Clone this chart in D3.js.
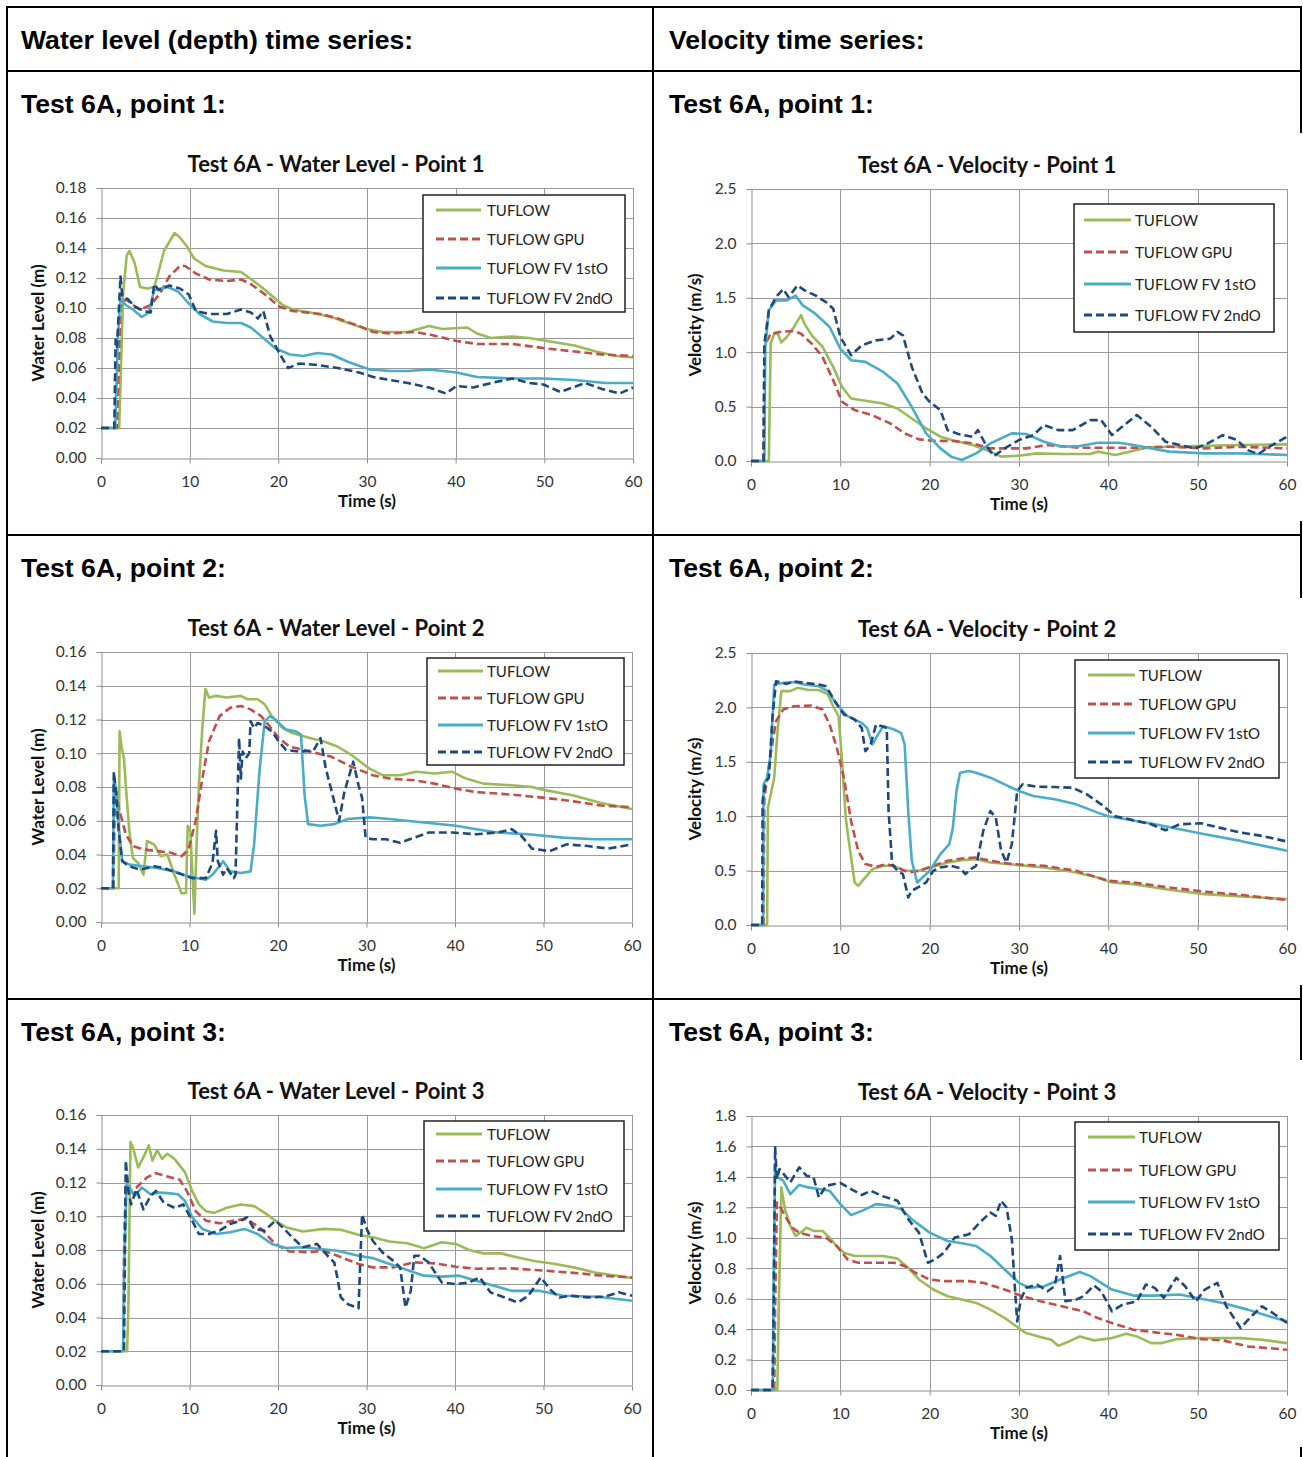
<!DOCTYPE html>
<html><head><meta charset="utf-8">
<script src="https://cdn.jsdelivr.net/npm/d3@7"></script>
<style>body{margin:0;background:#fff}svg{display:block}</style>
</head><body><svg id="c" width="1303" height="1457"></svg>
<script>
// ---------------- DATA ----------------
const seriesNames = ["TUFLOW", "TUFLOW GPU", "TUFLOW FV 1stO", "TUFLOW FV 2ndO"];
const xTicks = [0, 10, 20, 30, 40, 50, 60];
const wlTicks18 = [0, 0.02, 0.04, 0.06, 0.08, 0.10, 0.12, 0.14, 0.16, 0.18];
const wlTicks16 = [0, 0.02, 0.04, 0.06, 0.08, 0.10, 0.12, 0.14, 0.16];
const velTicks25 = [0, 0.5, 1.0, 1.5, 2.0, 2.5];
const velTicks18 = [0, 0.2, 0.4, 0.6, 0.8, 1.0, 1.2, 1.4, 1.6, 1.8];
const columnHeaders = ["Water level (depth) time series:", "Velocity time series:"];
const rowHeaders = ["Test 6A, point 1:", "Test 6A, point 2:", "Test 6A, point 3:"];
const chartTitles = ["Test 6A - Water Level - Point 1", "Test 6A - Velocity - Point 1",
  "Test 6A - Water Level - Point 2", "Test 6A - Velocity - Point 2",
  "Test 6A - Water Level - Point 3", "Test 6A - Velocity - Point 3"];

// Water level point 1
const wl1Tuflow = [[0,0.02],[2.05,0.02],[2.5,0.11],[2.9,0.135],[3.2,0.138],[3.8,0.130],[4.4,0.114],[5.2,0.113],[6.0,0.114],[6.35,0.121],[7.1,0.138],[8.3,0.150],[8.9,0.147],[9.7,0.141],[10.5,0.133],[11.8,0.128],[13.8,0.125],[15.8,0.124],[16.5,0.121],[18.1,0.114],[19.3,0.108],[20.5,0.102],[21.6,0.099],[23.6,0.097],[26,0.094],[27.9,0.090],[29.9,0.086],[31.8,0.084],[34.6,0.084],[37,0.088],[38.5,0.086],[41.3,0.087],[42.4,0.083],[44,0.080],[46.4,0.081],[48.3,0.080],[50.3,0.078],[53.4,0.075],[55.8,0.071],[58.1,0.068],[60,0.067]];
const wl1Gpu = [[0,0.02],[1.8,0.02],[2.2,0.101],[2.8,0.106],[3.6,0.102],[4.4,0.099],[5.6,0.102],[6.7,0.110],[7.7,0.121],[8.9,0.128],[9.5,0.128],[10.7,0.123],[12.2,0.119],[14.2,0.118],[15.8,0.119],[16.9,0.116],[18.5,0.109],[20.1,0.101],[21.6,0.098],[24.8,0.096],[26.7,0.093],[29.1,0.088],[30.7,0.084],[32.6,0.083],[35.4,0.084],[37.3,0.082],[40.1,0.078],[42.4,0.076],[46.4,0.076],[50.3,0.073],[53.4,0.071],[56.5,0.069],[60,0.068]];
const wl1Fv1 = [[0,0.02],[1.6,0.02],[1.9,0.08],[2.2,0.106],[2.8,0.102],[3.6,0.099],[4.6,0.094],[5.4,0.097],[6.0,0.112],[7.5,0.114],[8.7,0.111],[9.9,0.103],[11.1,0.096],[12.6,0.091],[14.2,0.090],[15.8,0.090],[16.9,0.087],[18.5,0.079],[19.7,0.073],[21.3,0.069],[22.8,0.068],[24.4,0.070],[26,0.069],[27.9,0.064],[30.3,0.059],[32.6,0.058],[34.6,0.058],[37,0.059],[40.1,0.057],[42.4,0.054],[46.4,0.053],[49.9,0.053],[53.4,0.052],[56.9,0.050],[60,0.050]];
const wl1Fv2 = [[0,0.02],[1.5,0.02],[1.65,0.079],[1.8,0.074],[2.2,0.121],[2.4,0.108],[3.0,0.106],[3.8,0.101],[4.8,0.098],[5.6,0.097],[6.0,0.116],[6.5,0.112],[7.7,0.115],[8.9,0.113],[9.9,0.109],[10.7,0.098],[12.2,0.096],[14.2,0.096],[15.8,0.099],[16.9,0.097],[17.7,0.093],[18.3,0.098],[19.1,0.081],[20.1,0.070],[21.1,0.060],[22.4,0.063],[24.4,0.062],[26.7,0.060],[29.1,0.057],[30.7,0.054],[32.6,0.052],[34.6,0.050],[37,0.047],[38.9,0.043],[40.1,0.048],[42,0.047],[44,0.050],[46.4,0.053],[48.3,0.050],[49.9,0.049],[51.8,0.044],[54.6,0.050],[56.5,0.046],[58.5,0.043],[60,0.047]];

// Velocity point 1
const v1Tuflow = [[0,0],[2.0,0],[2.2,1.08],[2.6,1.17],[3.0,1.17],[3.4,1.09],[4.0,1.14],[4.8,1.23],[5.6,1.34],[6.0,1.26],[6.8,1.155],[8.0,1.05],[9.2,0.865],[10.2,0.68],[11.2,0.575],[12.8,0.553],[14.8,0.529],[16.4,0.483],[18,0.391],[19.6,0.30],[21.2,0.223],[22.8,0.186],[24.8,0.147],[26.8,0.086],[28,0.04],[30,0.049],[32,0.07],[34.8,0.064],[38,0.064],[38.8,0.086],[40.8,0.055],[42.8,0.095],[44.4,0.125],[46.8,0.131],[50.8,0.14],[54.8,0.147],[60,0.153]];
const v1Gpu = [[0,0],[1.4,0],[1.5,1.05],[2.2,1.17],[3.2,1.186],[4.8,1.195],[5.6,1.17],[6.8,1.079],[8.0,0.957],[9.2,0.743],[10.2,0.544],[11.6,0.468],[13.6,0.42],[15.6,0.345],[17.2,0.254],[18.8,0.199],[20.4,0.186],[22.8,0.183],[24.8,0.162],[26.8,0.116],[30.8,0.116],[33.2,0.147],[36.8,0.122],[42.8,0.122],[46.8,0.131],[50.8,0.116],[54.8,0.131],[60,0.116]];
const v1Fv1 = [[0,0],[1.5,0],[1.6,1.05],[2.0,1.385],[2.8,1.476],[4.0,1.476],[5.0,1.52],[5.8,1.43],[7.2,1.354],[8.8,1.232],[10,1.033],[11.2,0.926],[12.8,0.911],[14.8,0.819],[16.4,0.712],[18,0.498],[19.6,0.254],[21.2,0.116],[22.4,0.04],[23.6,0.009],[25.2,0.07],[26.8,0.162],[29.2,0.254],[30.8,0.248],[32.8,0.177],[34.8,0.131],[36.8,0.137],[38.8,0.168],[41.2,0.168],[42.8,0.147],[44.8,0.116],[46.8,0.086],[50.8,0.07],[54.8,0.07],[60,0.055]];
const v1Fv2 = [[0,0],[1.4,0],[1.5,1.08],[2.0,1.385],[2.8,1.507],[3.6,1.58],[4.2,1.507],[5.2,1.614],[6.0,1.568],[7.2,1.522],[8.4,1.46],[9.2,1.40],[10,1.14],[11.2,0.972],[12.4,1.064],[14,1.109],[15.6,1.125],[16.4,1.186],[17,1.155],[18,0.865],[19.2,0.62],[20,0.544],[21.2,0.468],[22,0.284],[23.2,0.248],[24.8,0.223],[25.4,0.284],[26.4,0.131],[27.2,0.046],[28.4,0.116],[30,0.193],[31.6,0.238],[32.8,0.33],[34.4,0.284],[36,0.284],[38,0.376],[39.2,0.376],[40.4,0.238],[42,0.345],[43.2,0.422],[44.8,0.315],[46.4,0.177],[48,0.147],[49.6,0.116],[50.8,0.147],[52.8,0.238],[54.4,0.193],[55.6,0.10],[56.8,0.064],[58,0.131],[60,0.223]];

// Water level point 2
const wl2Tuflow = [[0,0.02],[2.0,0.02],[2.1,0.113],[2.35,0.103],[2.6,0.097],[2.8,0.081],[3.2,0.054],[3.6,0.038],[4.2,0.035],[4.8,0.028],[5.2,0.048],[6.0,0.046],[6.75,0.039],[7.5,0.040],[8.3,0.028],[9.1,0.017],[9.6,0.017],[9.8,0.057],[10.1,0.054],[10.35,0.026],[10.55,0.005],[10.8,0.046],[11.06,0.081],[11.45,0.115],[11.8,0.138],[12.2,0.133],[13,0.134],[14.2,0.133],[15.8,0.134],[16.55,0.132],[17.7,0.132],[18.5,0.129],[19.3,0.122],[20.5,0.115],[21.6,0.112],[23.6,0.109],[25.2,0.107],[26.7,0.104],[28.3,0.099],[30.3,0.091],[31.8,0.087],[33.8,0.087],[35.6,0.089],[37.7,0.088],[39.7,0.089],[41.25,0.085],[43.2,0.082],[46.4,0.081],[48.7,0.080],[50.3,0.078],[53.4,0.075],[56.5,0.0705],[60,0.067]];
const wl2Gpu = [[0,0.02],[1.4,0.02],[1.6,0.081],[2.0,0.068],[2.8,0.052],[3.6,0.045],[4.8,0.043],[6.35,0.042],[7.9,0.041],[9.1,0.039],[9.9,0.043],[10.7,0.060],[11.45,0.085],[12.2,0.107],[13.4,0.122],[14.6,0.127],[15.8,0.128],[16.9,0.126],[18.1,0.122],[18.9,0.117],[20.1,0.109],[21.3,0.104],[23.6,0.101],[26,0.098],[28.3,0.092],[30.7,0.087],[32.6,0.085],[35.4,0.084],[37.7,0.082],[40.1,0.079],[42.4,0.077],[46.4,0.0755],[50.3,0.0735],[53.4,0.0715],[56.5,0.069],[60,0.068]];
const wl2Fv1 = [[0,0.02],[1.35,0.02],[1.45,0.085],[1.7,0.079],[2.0,0.056],[2.4,0.036],[3.2,0.034],[4.8,0.033],[6.35,0.032],[8.3,0.030],[9.9,0.027],[11.85,0.025],[12.6,0.028],[13.8,0.036],[14.6,0.030],[15.8,0.029],[16.9,0.030],[17.3,0.046],[17.9,0.089],[18.5,0.119],[19.1,0.122],[19.7,0.120],[20.9,0.114],[22,0.113],[22.6,0.111],[23,0.0755],[23.4,0.058],[24.8,0.057],[26.35,0.058],[27.9,0.061],[30.3,0.062],[32.6,0.061],[36.5,0.059],[40.1,0.057],[42.4,0.055],[44.8,0.053],[48.3,0.052],[52.2,0.050],[55.8,0.049],[60,0.049]];
const wl2Fv2 = [[0,0.02],[1.35,0.02],[1.45,0.089],[1.7,0.077],[2.0,0.054],[2.4,0.036],[3.2,0.033],[4.4,0.031],[6.0,0.033],[7.1,0.032],[8.7,0.029],[10.3,0.026],[11.85,0.026],[12.6,0.035],[13,0.054],[13.2,0.036],[13.8,0.028],[14.2,0.032],[15,0.026],[15.2,0.028],[15.6,0.109],[15.8,0.085],[16,0.101],[16.35,0.097],[16.75,0.100],[16.9,0.119],[17.3,0.115],[17.7,0.118],[18.5,0.116],[19.3,0.113],[20.1,0.107],[20.9,0.102],[22.4,0.101],[24,0.1015],[24.8,0.109],[25.4,0.091],[26.35,0.0715],[26.9,0.060],[27.5,0.077],[28.5,0.095],[29.1,0.081],[29.5,0.0735],[29.9,0.050],[30.7,0.049],[32.2,0.049],[33.8,0.047],[35.4,0.050],[37,0.053],[39.7,0.053],[42.4,0.052],[44.8,0.053],[46.4,0.055],[47.5,0.051],[48.7,0.0435],[50.7,0.042],[52.6,0.046],[55,0.045],[57.3,0.0435],[60,0.046]];

// Velocity point 2
const v2Tuflow = [[0,0],[1.8,0],[1.9,1.08],[2.6,1.354],[3.0,1.81],[3.4,2.15],[4.4,2.15],[5.2,2.18],[6.4,2.16],[7.6,2.16],[8.6,2.12],[9.2,2.01],[9.8,1.92],[10.2,1.507],[10.6,0.987],[11,0.743],[11.6,0.391],[12,0.36],[12.6,0.42],[13.6,0.513],[14.8,0.544],[16,0.544],[17.2,0.498],[18.8,0.498],[20.4,0.535],[22,0.575],[23.6,0.596],[25.2,0.605],[26.8,0.575],[30,0.55],[32.8,0.529],[36,0.489],[38.8,0.437],[40.4,0.391],[42.8,0.376],[46.8,0.324],[50.8,0.284],[54.8,0.263],[60,0.238]];
const v2Gpu = [[0,0],[1.4,0],[1.5,1.17],[2.2,1.568],[2.8,1.873],[3.6,1.98],[4.8,2.01],[6.8,2.017],[8,1.98],[8.8,1.843],[9.6,1.63],[10.4,1.354],[11.2,0.957],[12,0.68],[12.8,0.56],[14,0.535],[15.2,0.56],[16.4,0.529],[17.6,0.483],[18.8,0.498],[20.4,0.544],[22,0.59],[23.6,0.611],[25.2,0.62],[26.8,0.59],[29.2,0.56],[32.8,0.544],[36.4,0.498],[40,0.406],[42.8,0.391],[46.8,0.345],[50.8,0.306],[54.8,0.278],[60,0.229]];
const v2Fv1 = [[0,0],[1.35,0],[1.4,1.29],[1.8,1.354],[2.2,1.568],[2.6,2.21],[3.6,2.225],[4.8,2.234],[6,2.21],[7.6,2.194],[8.6,2.15],[9.6,2.026],[10.8,1.92],[12.4,1.858],[13,1.81],[13.6,1.66],[14.2,1.75],[14.8,1.828],[16,1.797],[16.8,1.766],[17.2,1.66],[17.6,1.048],[18,0.59],[18.6,0.391],[19.2,0.437],[20,0.498],[21.2,0.651],[22.2,0.743],[22.6,0.895],[23,1.232],[23.4,1.40],[24.4,1.415],[25.2,1.40],[26.8,1.354],[28.8,1.277],[30,1.232],[31.6,1.186],[34,1.155],[36.4,1.109],[38.8,1.033],[40,1.0],[42,0.972],[44.8,0.932],[48,0.88],[50.8,0.834],[54.8,0.773],[60,0.682]];
const v2Fv2 = [[0,0],[1.25,0],[1.3,1.14],[1.6,1.308],[2.0,1.354],[2.4,1.904],[2.8,2.24],[4.0,2.216],[4.8,2.24],[6,2.225],[7.6,2.21],[8.4,2.194],[9.4,2.057],[10.4,1.935],[11.6,1.889],[12.4,1.81],[12.8,1.598],[13.4,1.66],[14,1.843],[14.6,1.828],[15.2,1.81],[15.4,1.048],[15.8,0.56],[16.4,0.498],[17,0.468],[17.6,0.254],[18,0.315],[18.8,0.351],[19.6,0.391],[20.4,0.498],[21.2,0.529],[22.4,0.544],[23.4,0.523],[24,0.468],[24.6,0.513],[25.2,0.544],[26,0.865],[26.8,1.048],[27.4,0.987],[28,0.682],[28.6,0.575],[29.2,0.743],[29.8,1.232],[30.4,1.293],[32,1.271],[34,1.268],[36,1.262],[37.6,1.20],[39.2,1.109],[40.8,1.0],[42.8,0.963],[44.8,0.926],[46.4,0.871],[48,0.926],[50.4,0.935],[52.4,0.895],[54.8,0.85],[57.2,0.819],[60,0.767]];

// Water level point 3
const wl3Tuflow = [[0,0.02],[2.95,0.02],[3.1,0.048],[3.33,0.144],[3.6,0.141],[4.2,0.129],[4.8,0.135],[5.4,0.142],[5.8,0.133],[6.35,0.139],[6.9,0.134],[7.5,0.137],[8.3,0.134],[8.9,0.130],[9.5,0.126],[10.3,0.115],[11.06,0.107],[11.85,0.103],[12.8,0.102],[14.2,0.105],[15.8,0.107],[17.3,0.106],[18.5,0.102],[19.7,0.0974],[20.9,0.0935],[22.8,0.091],[25.2,0.0925],[27.1,0.092],[29.1,0.089],[30.7,0.0875],[32.6,0.085],[34.6,0.084],[36.5,0.081],[38.5,0.0846],[40.1,0.0836],[41.6,0.080],[43.2,0.078],[45.2,0.078],[47.1,0.0756],[49.1,0.0733],[51,0.072],[53.4,0.0697],[55.8,0.0667],[58.1,0.0648],[60,0.0634]];
const wl3Gpu = [[0,0.02],[2.5,0.02],[2.6,0.078],[2.8,0.119],[3.2,0.115],[4.0,0.117],[5.2,0.123],[6.2,0.1255],[7.5,0.1236],[8.9,0.1216],[9.7,0.115],[10.7,0.103],[11.85,0.0974],[13.4,0.0958],[15,0.0974],[16.5,0.0984],[18.1,0.0925],[19.7,0.0836],[21.25,0.0792],[23.6,0.0786],[25.2,0.0796],[26.7,0.0766],[29.1,0.0717],[30.7,0.0697],[33,0.0697],[35.4,0.0727],[37.7,0.0721],[40.1,0.0701],[42.4,0.0689],[46.4,0.0691],[50.3,0.0677],[54.2,0.0661],[56.9,0.0646],[60,0.0638]];
const wl3Fv1 = [[0,0.02],[2.5,0.02],[2.6,0.068],[2.9,0.119],[3.2,0.117],[3.8,0.112],[4.6,0.117],[5.6,0.113],[6.5,0.114],[7.5,0.1137],[8.7,0.113],[9.5,0.109],[10.3,0.0994],[11.45,0.0925],[13,0.0895],[14.6,0.0905],[16.2,0.0925],[17.7,0.0895],[19.3,0.0836],[20.9,0.0812],[22.8,0.0816],[24.8,0.0806],[26.7,0.0796],[29.1,0.0766],[30.7,0.0752],[32.6,0.0717],[34.6,0.0681],[36.5,0.0648],[38.5,0.0642],[40.5,0.0648],[42.4,0.0618],[44.4,0.0588],[46.4,0.0558],[49.5,0.0558],[52.2,0.0529],[56.2,0.0523],[60,0.0499]];
const wl3Fv2 = [[0,0.02],[2.6,0.02],[2.8,0.133],[3.1,0.115],[3.4,0.107],[4,0.116],[4.8,0.104],[5.6,0.112],[6.2,0.115],[7.1,0.108],[8.3,0.105],[9.3,0.107],[10.3,0.0974],[11.06,0.0895],[12.2,0.0895],[13.4,0.0915],[14.6,0.0954],[15.8,0.0974],[16.5,0.0994],[17.3,0.0925],[18.5,0.0915],[19.7,0.0974],[20.7,0.0925],[21.6,0.0875],[22.8,0.0816],[24.4,0.0836],[25.6,0.0766],[26.35,0.0727],[26.7,0.0638],[27.1,0.0519],[27.9,0.0479],[29.1,0.0455],[29.5,0.101],[30.1,0.0915],[30.7,0.0855],[31.8,0.0786],[33,0.0737],[33.8,0.0697],[34.4,0.0459],[35,0.0558],[35.4,0.0766],[36,0.0766],[37,0.0727],[38.5,0.0608],[40.1,0.0598],[41.6,0.0608],[42.8,0.0638],[44,0.0549],[45.6,0.0519],[47.1,0.0489],[48.3,0.0529],[49.7,0.0638],[50.7,0.0568],[51.8,0.0519],[53,0.0529],[55,0.0519],[56.9,0.0523],[58.5,0.0549],[60,0.0529]];

// Velocity point 3
const v3Tuflow = [[0,0],[2.95,0],[3.1,0.528],[3.4,1.331],[3.8,1.188],[4.4,1.078],[5,1.012],[5.8,1.045],[6.2,1.067],[7,1.045],[8,1.045],[8.8,1.0],[9.6,0.946],[10.4,0.902],[11.6,0.88],[13.2,0.88],[14.8,0.88],[16.4,0.863],[17.6,0.803],[18.8,0.726],[20.4,0.66],[22,0.616],[23.6,0.594],[25.2,0.572],[26.8,0.528],[28.4,0.473],[29.6,0.4225],[30.8,0.374],[32.4,0.348],[33.6,0.33],[34.4,0.29],[35.6,0.319],[36.8,0.352],[38.4,0.326],[40.4,0.341],[42,0.37],[43.2,0.352],[44.8,0.308],[46,0.308],[47.6,0.334],[50,0.341],[52.8,0.341],[54.8,0.341],[57.2,0.33],[60,0.308]];
const v3Gpu = [[0,0],[2.6,0],[2.7,0.528],[2.9,1.232],[3.2,1.21],[3.8,1.144],[4.6,1.067],[5.4,1.034],[6.8,1.012],[8.4,1.0],[9.6,0.946],[10.8,0.858],[12,0.836],[14,0.836],[16,0.836],[17.2,0.814],[18.4,0.77],[20,0.726],[21.6,0.715],[24.4,0.715],[26,0.704],[28.4,0.66],[30.4,0.616],[32.4,0.583],[34.8,0.55],[37.2,0.517],[38.8,0.473],[40.4,0.44],[42.8,0.396],[45.2,0.3785],[47.6,0.363],[50.4,0.334],[52.8,0.326],[55.6,0.286],[58,0.275],[60,0.264]];
const v3Fv1 = [[0,0],[2.45,0],[2.5,0.528],[2.7,1.474],[3,1.397],[3.6,1.375],[4.4,1.287],[5.4,1.347],[6.4,1.331],[7.6,1.32],[8.8,1.309],[10,1.221],[11.2,1.149],[12.4,1.177],[14,1.221],[15.6,1.21],[16.8,1.188],[18,1.122],[20,1.034],[22,0.979],[23.6,0.964],[25.2,0.946],[26.8,0.88],[28.4,0.792],[30,0.704],[31.2,0.671],[32.8,0.682],[34.8,0.731],[36.8,0.775],[38,0.748],[40.4,0.66],[42.8,0.62],[45.2,0.62],[48,0.627],[50,0.605],[52.8,0.572],[55.6,0.528],[58,0.484],[60,0.451]];
const v3Fv2 = [[0,0],[2.4,0],[2.5,0.308],[2.7,1.595],[2.9,1.386],[3.2,1.452],[3.8,1.408],[4.4,1.364],[5.4,1.463],[6.2,1.408],[7,1.397],[7.6,1.265],[8.4,1.342],[10,1.36],[11.2,1.32],[12.4,1.281],[13.4,1.309],[14.8,1.272],[16.4,1.243],[17.6,1.122],[18.8,1.034],[19.8,0.836],[20.6,0.858],[21.6,0.902],[22.8,1.001],[24.4,1.023],[25.6,1.10],[26.8,1.166],[27.4,1.144],[28,1.243],[28.6,1.199],[29.2,0.99],[29.6,0.616],[29.8,0.451],[30.2,0.594],[30.8,0.671],[32,0.693],[33.2,0.649],[34,0.682],[34.6,0.88],[35.2,0.583],[36.4,0.594],[37.2,0.616],[38.4,0.687],[39.2,0.649],[40.4,0.517],[41.6,0.561],[43.2,0.583],[44.2,0.693],[45.2,0.671],[46.2,0.605],[47.6,0.737],[48.6,0.682],[49.8,0.583],[50.8,0.66],[52.2,0.704],[53.2,0.55],[54.8,0.407],[56,0.484],[57.2,0.55],[58.4,0.506],[60,0.44]];

// ---------------- LAYOUT / STYLE ----------------
const colors = ["#9BBB59", "#C0504D", "#4BACC6", "#1F497D"];
const dashes = [null, "8,4", null, "8,4"];
const chartFont = "Lato, 'Open Sans', sans-serif";
const headFont = "'Liberation Sans', Arial, sans-serif";

const panels = [
  {title: chartTitles[0], ylab: "Water Level (m)", ticks: wlTicks18, fmt: ".2f", L:101, R:633, T:188, B:458, tx:336, yx:38, right:false,
   data:[wl1Tuflow, wl1Gpu, wl1Fv1, wl1Fv2], leg:{x:423,y:195,w:202,h:117,rows:[210,239,268,298],s1:436,s2:481,t:487}},
  {title: chartTitles[1], ylab: "Velocity (m/s)", ticks: velTicks25, fmt: ".1f", L:751, R:1287, T:189, B:461, tx:987, yx:695, right:true, bg:[133,521],
   data:[v1Tuflow, v1Gpu, v1Fv1, v1Fv2], leg:{x:1074,y:204,w:200,h:128,rows:[220,252,284,315],s1:1084,s2:1131,t:1135}},
  {title: chartTitles[2], ylab: "Water Level (m)", ticks: wlTicks16, fmt: ".2f", L:101, R:632, T:652, B:922, tx:336, yx:38, right:false,
   data:[wl2Tuflow, wl2Gpu, wl2Fv1, wl2Fv2], leg:{x:427,y:658,w:197,h:107,rows:[671,698,725,752],s1:438,s2:483,t:487}},
  {title: chartTitles[3], ylab: "Velocity (m/s)", ticks: velTicks25, fmt: ".1f", L:751, R:1287, T:653, B:925, tx:987, yx:695, right:true, bg:[598,985],
   data:[v2Tuflow, v2Gpu, v2Fv1, v2Fv2], leg:{x:1075,y:660,w:204,h:118,rows:[675,704,733,762],s1:1088,s2:1135,t:1139}},
  {title: chartTitles[4], ylab: "Water Level (m)", ticks: wlTicks16, fmt: ".2f", L:101, R:632, T:1115, B:1385, tx:336, yx:38, right:false,
   data:[wl3Tuflow, wl3Gpu, wl3Fv1, wl3Fv2], leg:{x:424,y:1121,w:200,h:110,rows:[1134,1161,1189,1216],s1:436,s2:482,t:487}},
  {title: chartTitles[5], ylab: "Velocity (m/s)", ticks: velTicks18, fmt: ".1f", L:751, R:1287, T:1116, B:1390, tx:987, yx:695, right:true, bg:[1060,1447],
   data:[v3Tuflow, v3Gpu, v3Fv1, v3Fv2], leg:{x:1075,y:1122,w:204,h:128,rows:[1137,1170,1202,1234],s1:1088,s2:1135,t:1139}}
];

const svg = d3.select("#c");

// table
const tbl = svg.append("g").attr("stroke", "#000").attr("stroke-width", 2).attr("fill", "none");
tbl.append("line").attr("x1", 6).attr("x2", 1302).attr("y1", 7).attr("y2", 7);
tbl.append("line").attr("x1", 6).attr("x2", 1302).attr("y1", 71).attr("y2", 71);
tbl.append("line").attr("x1", 6).attr("x2", 1302).attr("y1", 535).attr("y2", 535);
tbl.append("line").attr("x1", 6).attr("x2", 1302).attr("y1", 999).attr("y2", 999);
tbl.append("line").attr("x1", 7).attr("x2", 7).attr("y1", 6).attr("y2", 1457);
tbl.append("line").attr("x1", 653).attr("x2", 653).attr("y1", 6).attr("y2", 1457);
tbl.append("line").attr("x1", 1301).attr("x2", 1301).attr("y1", 6).attr("y2", 1457);

const heads = svg.append("g").attr("font-family", headFont).attr("font-weight", "bold").attr("font-size", 26.6).attr("fill", "#000");
heads.append("text").attr("x", 21).attr("y", 49).text(columnHeaders[0]);
heads.append("text").attr("x", 669).attr("y", 49).text(columnHeaders[1]);
[113, 577, 1041].forEach((y, i) => {
  heads.append("text").attr("x", 21).attr("y", y).text(rowHeaders[i]);
  heads.append("text").attr("x", 669).attr("y", y).text(rowHeaders[i]);
});

panels.forEach(p => {
  const g = svg.append("g");
  if (p.right) {
    g.append("rect").attr("x", 654.5).attr("y", p.bg[0]).attr("width", 1303 - 654.5).attr("height", p.bg[1] - p.bg[0]).attr("fill", "#fff");
  }
  const x = d3.scaleLinear().domain([0, 60]).range([p.L, p.R]);
  const y = d3.scaleLinear().domain([0, d3.max(p.ticks)]).range([p.B, p.T]);

  // gridlines
  const grid = g.append("g").attr("stroke", "#9a9a9a").attr("stroke-width", 1);
  p.ticks.filter(v => v > 0).forEach(v => grid.append("line").attr("x1", p.L).attr("x2", p.R).attr("y1", Math.round(y(v)) + 0.5).attr("y2", Math.round(y(v)) + 0.5));
  xTicks.filter(v => v > 0).forEach(v => grid.append("line").attr("y1", p.T).attr("y2", p.B).attr("x1", Math.round(x(v)) + 0.5).attr("x2", Math.round(x(v)) + 0.5));

  // axes
  const ya = g.append("g").attr("transform", `translate(${p.L + 0.5},0)`)
    .call(d3.axisLeft(y).tickValues(p.ticks).tickFormat(d3.format(p.fmt)).tickSize(5).tickSizeOuter(0).tickPadding(10));
  const xa = g.append("g").attr("transform", `translate(0,${Math.round(p.B) + 0.5})`)
    .call(d3.axisBottom(x).tickValues(xTicks).tickFormat(d3.format("d")).tickSize(5).tickSizeOuter(0).tickPadding(12));
  [ya, xa].forEach(a => {
    a.selectAll("path,line").attr("stroke", "#8c8c8c");
    a.selectAll("text").attr("font-family", chartFont).attr("font-size", 15.5).attr("fill", "#333");
  });

  // lines
  const line = d3.line().x(d => x(d[0])).y(d => y(d[1]));
  p.data.forEach((s, i) => {
    g.append("path").datum(s).attr("d", line).attr("fill", "none")
      .attr("stroke", colors[i]).attr("stroke-width", 2.6)
      .attr("stroke-dasharray", dashes[i]).attr("stroke-linejoin", "round");
  });

  // titles
  g.append("text").attr("x", p.tx).attr("y", p.T - 16).attr("text-anchor", "middle")
    .attr("font-family", chartFont).attr("font-weight", "bold").attr("font-size", 22).attr("fill", "#111").text(p.title);
  g.append("text").attr("x", (p.L + p.R) / 2).attr("y", p.B + 49).attr("text-anchor", "middle")
    .attr("font-family", chartFont).attr("font-weight", "bold").attr("font-size", 17).attr("fill", "#111").text("Time (s)");
  g.append("text").attr("transform", `translate(${p.yx + 6},${(p.T + p.B) / 2}) rotate(-90)`).attr("text-anchor", "middle")
    .attr("font-family", chartFont).attr("font-weight", "bold").attr("font-size", 17).attr("fill", "#111").text(p.ylab);

  // legend
  const lg = g.append("g");
  lg.append("rect").attr("x", p.leg.x).attr("y", p.leg.y).attr("width", p.leg.w).attr("height", p.leg.h)
    .attr("fill", "#fff").attr("stroke", "#222").attr("stroke-width", 1.5);
  seriesNames.forEach((n, i) => {
    const ry = p.leg.rows[i];
    lg.append("line").attr("x1", p.leg.s1).attr("x2", p.leg.s2).attr("y1", ry).attr("y2", ry)
      .attr("stroke", colors[i]).attr("stroke-width", 3).attr("stroke-dasharray", dashes[i]);
    lg.append("text").attr("x", p.leg.t).attr("y", ry + 5.5).attr("font-family", chartFont)
      .attr("font-size", 15).attr("fill", "#222").text(n);
  });
});
</script></body></html>
